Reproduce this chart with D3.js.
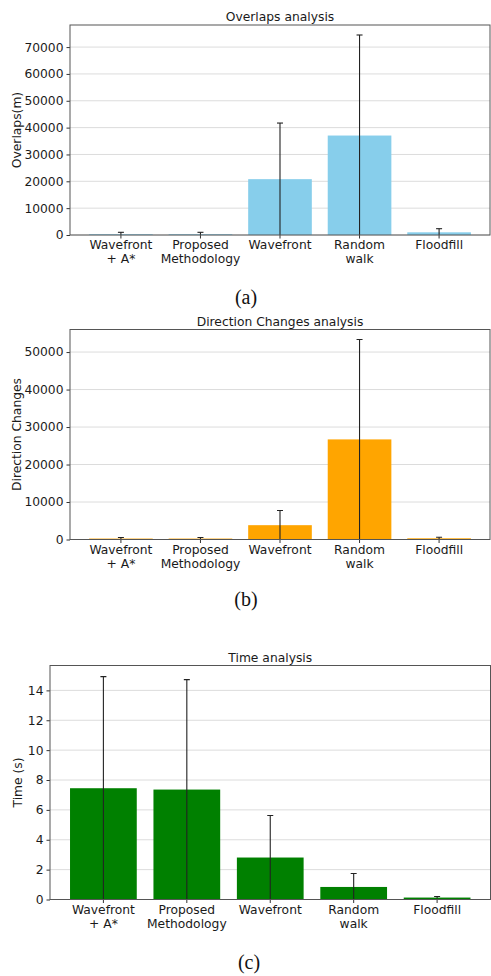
<!DOCTYPE html>
<html>
<head>
<meta charset="utf-8">
<script src="https://cdn.jsdelivr.net/npm/d3@7"></script>
<style>
  html, body { margin: 0; padding: 0; background: #fff; }
  svg { display: block; }
  .sans { font-family: "DejaVu Sans", sans-serif; fill: #1a1a1a; }
  .serif { font-family: "Liberation Serif", "Times New Roman", serif; fill: #111; }
</style>
</head>
<body>
<svg id="fig" width="491" height="976"></svg>
<script>
// Algorithms compared in every panel (multi-line tick labels)
const categories = [
  ["Wavefront", "+ A*"],
  ["Proposed", "Methodology"],
  ["Wavefront"],
  ["Random", "walk"],
  ["Floodfill"]
];

// Overlaps (m): mean and standard deviation
const overlapMeans = [300, 300, 20800, 37050, 1000];
const overlapStd   = [700, 700, 20900, 37450, 1350];
const overlapTicks = [0, 10000, 20000, 30000, 40000, 50000, 60000, 70000];

// Direction changes: mean and standard deviation
const directionMeans = [250, 250, 3820, 26700, 320];
const directionStd   = [280, 280, 3930, 26650, 280];
const directionTicks = [0, 10000, 20000, 30000, 40000, 50000];

// Execution time (s): mean and standard deviation
const timeMeans = [7.45, 7.36, 2.81, 0.84, 0.13];
const timeStd   = [7.47, 7.36, 2.81, 0.90, 0.07];
const timeTicks = [0, 2, 4, 6, 8, 10, 12, 14];

const svg = d3.select("#fig");
const FS = 12.3;

function drawPanel(opt, idx) {
  const { left, right, top, bottom } = opt.box;
  const g = svg.append("g");
  const maxVal = d3.max(opt.means, (m, i) => m + opt.std[i]) * 1.05;

  const x = d3.scaleBand()
    .domain(d3.range(categories.length))
    .range([left, right])
    .paddingInner(0.2)
    .paddingOuter(0.24);
  const y = d3.scaleLinear().domain([0, maxVal]).range([bottom, top]);

  const clipId = "clip" + idx;
  g.append("clipPath").attr("id", clipId)
    .append("rect").attr("x", left).attr("y", top)
    .attr("width", right - left).attr("height", bottom - top);

  // horizontal grid
  g.append("g").selectAll("line").data(opt.ticks).join("line")
    .attr("x1", left).attr("x2", right)
    .attr("y1", d => y(d)).attr("y2", d => y(d))
    .attr("stroke", "#dcdcdc").attr("stroke-width", 1);

  const plot = g.append("g").attr("clip-path", `url(#${clipId})`);

  // bars
  plot.selectAll("rect.bar").data(opt.means).join("rect")
    .attr("class", "bar")
    .attr("x", (d, i) => x(i))
    .attr("width", x.bandwidth())
    .attr("y", d => y(d))
    .attr("height", d => y(0) - y(d))
    .attr("fill", opt.color);

  // error bars
  const cx = i => x(i) + x.bandwidth() / 2;
  plot.selectAll("line.err").data(opt.means).join("line")
    .attr("class", "err")
    .attr("x1", (d, i) => cx(i)).attr("x2", (d, i) => cx(i))
    .attr("y1", (d, i) => y(d - opt.std[i]))
    .attr("y2", (d, i) => y(d + opt.std[i]))
    .attr("stroke", "#222").attr("stroke-width", 1.1);
  plot.selectAll("line.cap").data(opt.means).join("line")
    .attr("class", "cap")
    .attr("x1", (d, i) => cx(i) - 3).attr("x2", (d, i) => cx(i) + 3)
    .attr("y1", (d, i) => y(d + opt.std[i]))
    .attr("y2", (d, i) => y(d + opt.std[i]))
    .attr("stroke", "#222").attr("stroke-width", 1.1);

  // y axis
  const yAxis = d3.axisLeft(y).tickValues(opt.ticks)
    .tickFormat(opt.fmt).tickSize(3.5).tickPadding(3);
  const ya = g.append("g").attr("transform", `translate(${left},0)`).call(yAxis);
  ya.attr("font-family", null).attr("font-size", null);
  ya.select(".domain").remove();
  ya.selectAll(".tick line").attr("stroke", "#333");
  ya.selectAll(".tick text").attr("class", "sans").style("font-size", FS + "px");

  // x axis with multi-line labels
  const xAxis = d3.axisBottom(x).tickSize(3.5).tickFormat("");
  const xa = g.append("g").attr("transform", `translate(0,${bottom})`).call(xAxis);
  xa.attr("font-family", null).attr("font-size", null);
  xa.select(".domain").remove();
  xa.selectAll(".tick line").attr("stroke", "#333");
  xa.selectAll(".tick").each(function (d) {
    const t = d3.select(this).append("text")
      .attr("class", "sans")
      .attr("text-anchor", "middle")
      .style("font-size", FS + "px");
    categories[d].forEach((line, k) => {
      t.append("tspan").attr("x", 0).attr("y", 14 + k * 14).text(line);
    });
  });

  // frame
  g.append("rect").attr("x", left).attr("y", top)
    .attr("width", right - left).attr("height", bottom - top)
    .attr("fill", "none").attr("stroke", "#555").attr("stroke-width", 1);

  // title
  g.append("text").attr("class", "sans")
    .attr("x", (left + right) / 2).attr("y", top - 4)
    .attr("text-anchor", "middle").style("font-size", FS + "px")
    .text(opt.title);

  // y label
  g.append("text").attr("class", "sans")
    .attr("transform", `translate(${opt.ylabelX},${(top + bottom) / 2}) rotate(-90)`)
    .attr("text-anchor", "middle").style("font-size", FS + "px")
    .text(opt.ylabel);

  // caption
  g.append("text").attr("class", "serif")
    .attr("x", opt.caption[1]).attr("y", opt.caption[2])
    .attr("text-anchor", "middle")
    .style("font-size", "20px")
    .text(opt.caption[0]);
}

const panels = [
  {
    title: "Overlaps analysis", ylabel: "Overlaps(m)",
    means: overlapMeans, std: overlapStd, ticks: overlapTicks,
    color: "#87ceeb", fmt: d3.format("d"),
    box: { left: 70, right: 490, top: 25, bottom: 235 },
    ylabelX: 21, caption: ["(a)", 246, 304]
  },
  {
    title: "Direction Changes analysis", ylabel: "Direction Changes",
    means: directionMeans, std: directionStd, ticks: directionTicks,
    color: "#ffa500", fmt: d3.format("d"),
    box: { left: 70, right: 490, top: 329.5, bottom: 539.5 },
    ylabelX: 21, caption: ["(b)", 246, 606]
  },
  {
    title: "Time analysis", ylabel: "Time (s)",
    means: timeMeans, std: timeStd, ticks: timeTicks,
    color: "#008000", fmt: d3.format("d"),
    box: { left: 50, right: 490.5, top: 665.5, bottom: 899.5 },
    ylabelX: 22, caption: ["(c)", 249, 969]
  }
];

panels.forEach(drawPanel);
</script>
</body>
</html>
